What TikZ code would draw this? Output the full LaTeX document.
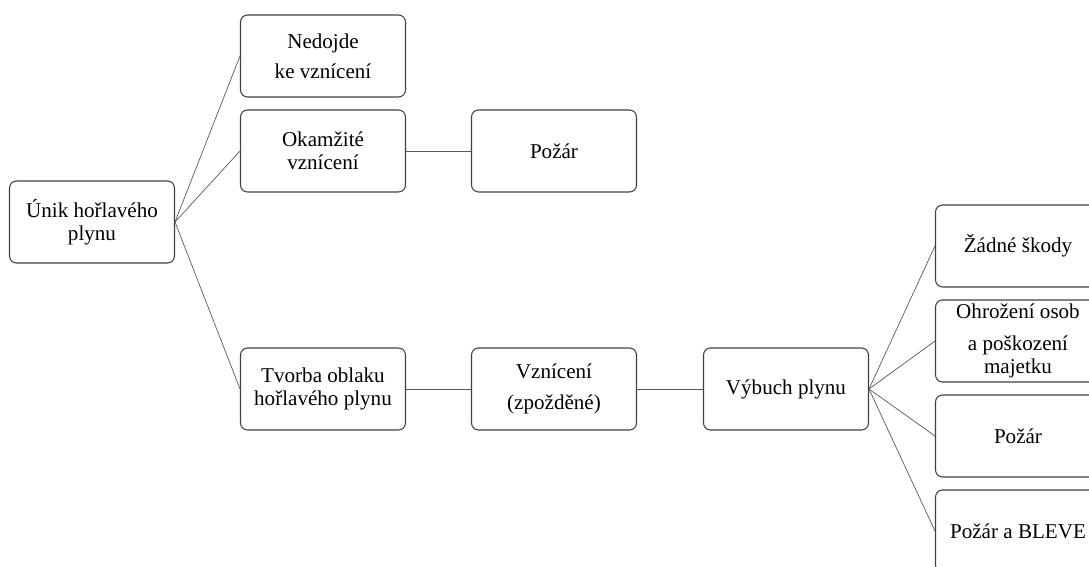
\documentclass[tikz,border=0pt]{standalone}
\usepackage{fontspec}
\setmainfont{Liberation Serif}
\begin{document}
\begin{tikzpicture}[x=0.02cm,y=-0.02cm,
	box/.style={draw=black!75,line width=0.6pt,rounded corners=4pt,minimum width=3.3cm,minimum height=1.64cm,align=center,inner sep=1pt,font=\fontsize{12}{13}\selectfont},
	link/.style={draw=black!65,line width=0.4pt}]
		\clip (0,0) rectangle (1089,567);
		% first level
		\node[box] (unik) at (92,222) {Únik hořlavého\\plynu};
		\node[box] (nedojde) at (323,56) {Nedojde\\[4pt] ke vznícení};
		\node[box] (okamzite) at (323,151) {Okamžité\\vznícení};
		\node[box] (tvorba) at (323,389) {Tvorba oblaku\\hořlavého plynu};
		\node[box] (pozar) at (554,151) {Požár};
		\node[box] (vzniceni) at (554,389) {Vznícení\\[5pt](zpožděné)};
		\node[box] (vybuch) at (786,389) {Výbuch plynu};
		% consequences
		\node[box] (skody) at (1018,246) {Žádné škody};
		\node[box] (osoby) at (1018,341) {Ohrožení osob\\[5pt]a poškození\\majetku};
		\node[box] (pozarb) at (1018,436) {Požár};
		\node[box] (bleve) at (1018,531) {Požár a BLEVE};
		% connectors
		\draw[link] (unik.east) -- (nedojde.west);
		\draw[link] (unik.east) -- (okamzite.west);
		\draw[link] (unik.east) -- (tvorba.west);
		\draw[link] (okamzite) -- (pozar);
		\draw[link] (tvorba) -- (vzniceni);
		\draw[link] (vzniceni) -- (vybuch);
		\draw[link] (vybuch.east) -- (skody.west);
		\draw[link] (vybuch.east) -- (osoby.west);
		\draw[link] (vybuch.east) -- (pozarb.west);
		\draw[link] (vybuch.east) -- (bleve.west);
\end{tikzpicture}
\end{document}
